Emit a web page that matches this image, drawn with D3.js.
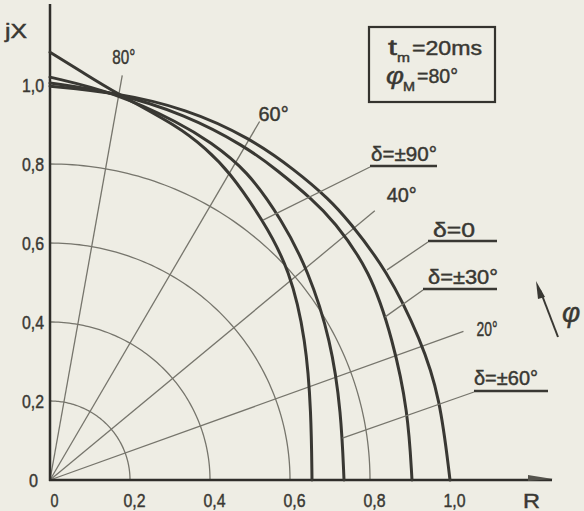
<!DOCTYPE html>
<html>
<head>
<meta charset="utf-8">
<script src="https://cdn.jsdelivr.net/npm/d3@7"></script>
<style>
  html, body { margin: 0; padding: 0; background: #eeede4; }
  svg { display: block; }
</style>
</head>
<body>
<svg id="chart" width="584" height="511"></svg>
<script>
// Impedance trajectories R + jX for several load angles δ
const axisTicks = [0, 0.2, 0.4, 0.6, 0.8, 1.0];
const tickLabels = ["0", "0,2", "0,4", "0,6", "0,8", "1,0"];
const gridRadii = [0.2, 0.4, 0.6, 0.8];
const rayAngles = [20, 40, 60, 80];
const rayLengths = [1.10, 1.06, 1.048, 1.04];
const rayLabels = ["20°", "40°", "60°", "80°"];

const deltaNames = ["δ=0", "δ=±30°", "δ=±60°", "δ=±90°"];
// [R, X] points of each trajectory
const delta0 = [[0, .997], [.16, .982], [.342, .94], [.50, .866], [.6125, .785], [.70, .709], [.745, .658], [.8425, .532], [.9275, .354], [.975, .21], [1.0, 0]];
const delta30 = [[0, 1.005], [.16, .982], [.337, .926], [.488, .845], [.5675, .785], [.6575, .709], [.7075, .658], [.80, .532], [.8575, .354], [.895, .175], [.905, 0]];
const delta60 = [[0, 1.02], [.16, .982], [.328, .902], [.40, .856], [.4925, .785], [.58, .658], [.645, .532], [.7025, .354], [.728, .17], [.735, 0]];
const delta90 = [[0, 1.083], [.08, 1.033], [.16, .982], [.325, .893], [.39, .838], [.445, .785], [.5325, .658], [.60, .532], [.64, .354], [.653, .17], [.655, 0]];
const leaderTargets = [[.8425, .532], [.838, .413], [.731, .106], [.5325, .658]];

const paramLine1 = ["t", "m", "=20ms"];
const paramLine2 = ["φ", "M", "=80°"];

const ink = "#393833";
const gridInk = "#76756c";
const font = "'Liberation Sans', Arial, sans-serif";

const svg = d3.select("#chart");
const x = d3.scaleLinear().domain([0, 1]).range([50, 450]);
const y = d3.scaleLinear().domain([0, 1]).range([480, 85]);

function styleText(t, size) {
  t.attr("font-family", font)
    .attr("font-size", size)
    .attr("fill", ink)
    .attr("stroke", ink)
    .attr("stroke-width", 0.45);
}

function txt(g, px, py, s, size, width, extra) {
  const t = g.append("text").attr("x", px).attr("y", py).text(s);
  styleText(t, size);
  if (width) t.attr("textLength", width).attr("lengthAdjust", "spacingAndGlyphs");
  if (extra) extra(t);
  return t;
}

// concentric grid arcs
const arc = d3.line().x(d => x(d[0])).y(d => y(d[1]));
const grid = svg.append("g").attr("fill", "none").attr("stroke", gridInk).attr("stroke-width", 1.3);
gridRadii.forEach(r => {
  const pts = d3.range(0, 90.5, 1).map(a => [r * Math.cos(a * Math.PI / 180), r * Math.sin(a * Math.PI / 180)]);
  grid.append("path").attr("d", arc(pts));
});

// radial angle lines
const rayOffsets = [[13, 5], [12, -9], [-1, -1], [-10, -11]];
const rayLabelWidths = [21, 30, 30, 23];
rayAngles.forEach((a, i) => {
  const rad = a * Math.PI / 180;
  const ex = x(rayLengths[i] * Math.cos(rad)), ey = y(rayLengths[i] * Math.sin(rad));
  grid.append("line").attr("x1", x(0)).attr("y1", y(0)).attr("x2", ex).attr("y2", ey);
  txt(svg, ex + rayOffsets[i][0], ey + rayOffsets[i][1], rayLabels[i], 20, rayLabelWidths[i]);
});

// axes
const axes = svg.append("g").attr("stroke", "#2f2e2a").attr("stroke-width", 2.5).attr("fill", "none");
axes.append("line").attr("x1", x(0) - 1).attr("y1", y(0)).attr("x2", 552).attr("y2", y(0));
axes.append("line").attr("x1", x(0)).attr("y1", y(0) + 1).attr("x2", x(0)).attr("y2", 4);
svg.append("path")
  .attr("d", `M528,${y(0) - 5} L553,${y(0) - 1} L528,${y(0) + 1} Z`)
  .attr("fill", "#55544d");

// tick labels through d3 axes
const xAxis = svg.append("g").attr("transform", `translate(4,${y(0) + 27})`)
  .call(d3.axisBottom(x).tickValues(axisTicks).tickFormat((d, i) => tickLabels[i]).tickSize(0).tickPadding(0));
xAxis.select(".domain").remove();
xAxis.selectAll("text")
  .attr("dy", null).attr("y", 0)
  .attr("textLength", (d, i) => i === 0 ? 8 : 22).attr("lengthAdjust", "spacingAndGlyphs")
  .each(function () { styleText(d3.select(this), 19); });

const yAxis = svg.append("g").attr("transform", `translate(44,0)`)
  .call(d3.axisLeft(y).tickValues(axisTicks).tickFormat((d, i) => tickLabels[i]).tickSize(0).tickPadding(0));
yAxis.select(".domain").remove();
yAxis.selectAll("text")
  .attr("dy", "0.36em")
  .attr("x", (d, i) => i === 0 ? -6 : 0)
  .attr("textLength", (d, i) => i === 0 ? 9 : 22).attr("lengthAdjust", "spacingAndGlyphs")
  .each(function () { styleText(d3.select(this), 19); });

txt(svg, 5, 38, "jX", 20, 22);
txt(svg, 523, 508, "R", 20, 17);

// trajectories
const traj = d3.line().x(d => x(d[0])).y(d => y(d[1])).curve(d3.curveBasis);
[delta0, delta30, delta60, delta90].forEach(pts => {
  svg.append("path").attr("d", traj(pts))
    .attr("fill", "none").attr("stroke", ink).attr("stroke-width", 3).attr("stroke-linecap", "round");
});

// δ labels with underline and leader line
const labelBoxes = [
  { tx: 433, ty: 237, w: 42, u0: 428, u1: 497, uy: 241 },
  { tx: 428, ty: 284, w: 70, u0: 423, u1: 497, uy: 289 },
  { tx: 474, ty: 385, w: 64, u0: 474, u1: 548, uy: 391 },
  { tx: 371, ty: 161, w: 66, u0: 370, u1: 437, uy: 166 }
];
deltaNames.forEach((name, i) => {
  const b = labelBoxes[i];
  txt(svg, b.tx, b.ty, name, 20, b.w);
  svg.append("line").attr("x1", b.u0).attr("y1", b.uy).attr("x2", b.u1).attr("y2", b.uy)
    .attr("stroke", ink).attr("stroke-width", 2.6);
  svg.append("line").attr("x1", b.u0).attr("y1", b.uy + 1)
    .attr("x2", x(leaderTargets[i][0])).attr("y2", y(leaderTargets[i][1]))
    .attr("stroke", gridInk).attr("stroke-width", 1.3);
});

// parameter box
svg.append("rect").attr("x", 369).attr("y", 27).attr("width", 126).attr("height", 75)
  .attr("fill", "none").attr("stroke", "#34332e").attr("stroke-width", 2.2);
txt(svg, 388, 55, paramLine1[0], 22, 9);
txt(svg, 397, 62, paramLine1[1], 13, 13);
txt(svg, 412, 55, paramLine1[2], 20, 70);
txt(svg, 386, 84, paramLine2[0], 24, 18, t => t.attr("font-style", "italic"));
txt(svg, 403, 91, paramLine2[1], 12, 12);
txt(svg, 417, 83, paramLine2[2], 20, 41);

// rotation arrow for φ at the right edge
svg.append("line").attr("x1", 558).attr("y1", 337).attr("x2", 540).attr("y2", 290)
  .attr("stroke", ink).attr("stroke-width", 2);
svg.append("path").attr("d", "M536,281 L545,297 L538,299 Z").attr("fill", ink);
txt(svg, 562, 322, "φ", 28, null, t => t.attr("font-style", "italic"));
</script>
</body>
</html>
